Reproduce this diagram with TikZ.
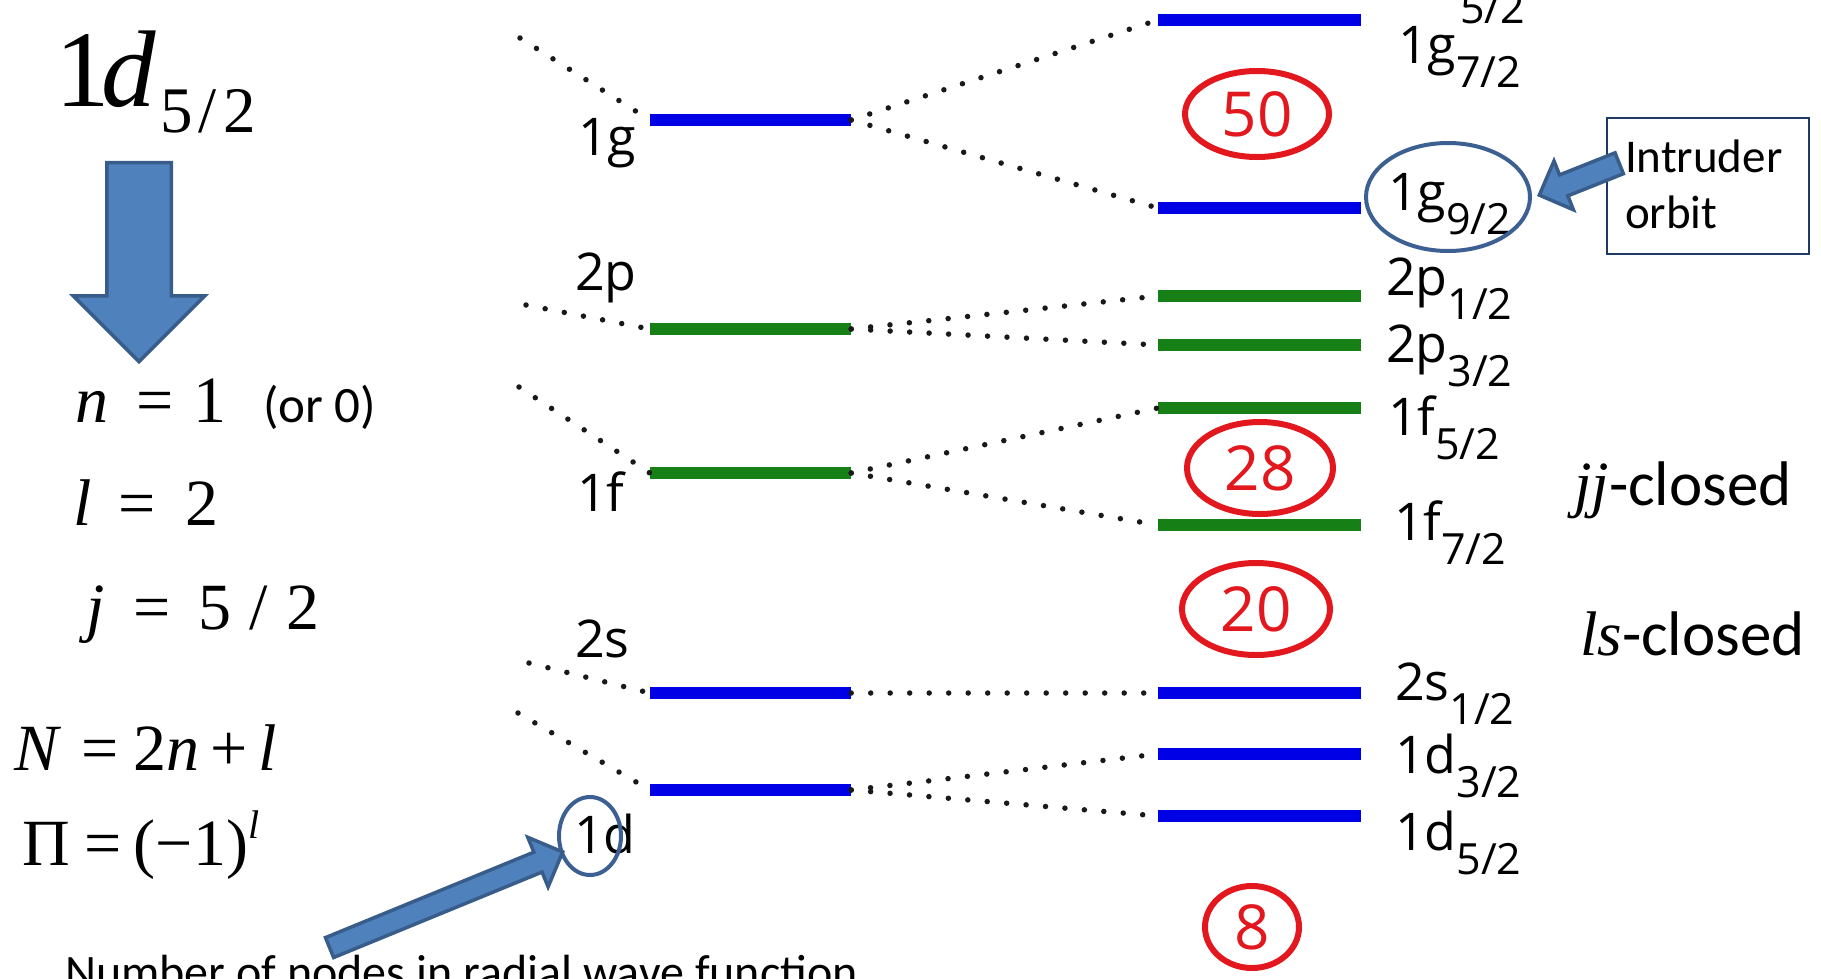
\documentclass[tikz,border=0pt]{standalone}
\usepackage{fontspec}
\setmainfont{Carlito}
\newfontfamily\tnr{Liberation Serif}
\newfontfamily\lvf{Open Sans}
\usetikzlibrary{shapes.geometric,shapes.arrows,calc}

\definecolor{lvblue}{RGB}{0,0,230}
\definecolor{lvgreen}{RGB}{22,128,22}
\definecolor{magic}{RGB}{226,24,30}
\definecolor{arrowfill}{RGB}{79,129,189}
\definecolor{arrowedge}{RGB}{56,93,138}
\definecolor{ringblue}{RGB}{60,96,146}
\definecolor{boxedge}{RGB}{32,56,100}
\definecolor{dotgray}{RGB}{25,25,25}

\newcommand\fsz[1]{\fontsize{#1}{#1}\selectfont}
\newcommand\orb[2]{#1\raisebox{-24pt}{\fsz{43}#2}}

\begin{document}
\begin{tikzpicture}[x=1pt,y=-1pt,
  txt/.style={anchor=base west, inner sep=0pt, outer sep=0pt},
  bar/.style={rectangle, inner sep=0pt, minimum height=12.5pt},
  midbar/.style={bar, minimum width=201pt},
  sidebar/.style={bar, minimum width=203pt},
  dotl/.style={draw=dotgray, line width=5.5pt, dash pattern=on 0pt off 19.5pt, line cap=round},
  lvlabel/.style={txt, font=\lvf\fsz{52}},
  magicring/.style={ellipse, draw=magic, line width=6pt, text=magic, font=\lvf\fsz{62}, inner sep=0pt},
  pointer/.style={ellipse, draw=ringblue, line width=4pt, inner sep=0pt},
  barrow/.style={single arrow, draw=arrowedge, fill=arrowfill, line width=3.5pt, inner sep=0pt,
    text depth=0pt, single arrow tip angle=90, line join=miter},
  math/.style={txt, font=\tnr\fsz{66}},
]
\useasboundingbox (0,0) rectangle (1821,978);

% ---------- left column: quantum numbers ----------
\node[txt, font=\tnr\fsz{109}] (big1d) at (55,106) {1\hspace{-8pt}\textit{d}};
\node[txt, font=\tnr\fsz{65}] (big1dsub) at (160,132) {5\hspace{6pt}/\hspace{7pt}2};

\node[barrow, text height=61pt, minimum height=199pt, single arrow head extend=33.5pt,
      rotate=-90, anchor=tip] (downarr) at (139,364) {};

\node[math] (neq) at (75,422) {\textit{n}\hspace{28pt}=\hspace{20pt}1};
\node[txt, font=\fsz{51}] (nalt) at (263,422) {(or 0)};
\node[math] (leq) at (73,525) {\textit{l}\hspace{27pt}=\hspace{30pt}2};
\node[math] (jeq) at (86,629) {\textit{j}\hspace{29pt}=\hspace{28pt}5\hspace{18pt}/\hspace{19pt}2};
\node[math] (Neq) at (14,770) {\textit{N}\hspace{20pt}=\hspace{15pt}2\textit{n}\hspace{11pt}+\hspace{11pt}\textit{l}};
\node[math] (Pieq) at (22,865) {Π\hspace{15pt}=\hspace{12pt}(−1)\raisebox{27pt}{\fsz{40}\textit{l}}};

\node[txt, font=\fsz{48}] (nodesnote) at (65,988) {Number of nodes in radial wave function};

% ---------- free ends of the incoming dotted lines ----------
\coordinate (l1g) at (520,38);
\coordinate (l2p) at (526,305);
\coordinate (l1f) at (519,387);
\coordinate (l2s) at (529,663);
\coordinate (l1d) at (518,713);

% ---------- oscillator levels (without spin-orbit) ----------
\node[midbar, fill=lvblue]  (c1g) at (750.5,120) {};
\node[midbar, fill=lvgreen] (c2p) at (750.5,329) {};
\node[midbar, fill=lvgreen] (c1f) at (750.5,473) {};
\node[midbar, fill=lvblue]  (c2s) at (750.5,693) {};
\node[midbar, fill=lvblue]  (c1d) at (750.5,790) {};

\node[lvlabel] (n1g) at (578,155) {1g};
\node[lvlabel] (n2p) at (575,290) {2p};
\node[lvlabel] (n1f) at (577,511) {1f};
\node[lvlabel] (n2s) at (575,657) {2s};
\node[lvlabel] (n1d) at (574,853) {1d};

% ---------- spin-orbit split levels ----------
\node[sidebar, fill=lvblue]  (r1g7) at (1259.5,20) {};
\node[sidebar, fill=lvblue]  (r1g9) at (1259.5,208) {};
\node[sidebar, fill=lvgreen] (r2p1) at (1259.5,296) {};
\node[sidebar, fill=lvgreen] (r2p3) at (1259.5,345) {};
\node[sidebar, fill=lvgreen] (r1f5) at (1259.5,408) {};
\node[sidebar, fill=lvgreen] (r1f7) at (1259.5,525) {};
\node[sidebar, fill=lvblue]  (r2s1) at (1259.5,693) {};
\node[sidebar, fill=lvblue]  (r1d3) at (1259.5,754) {};
\node[sidebar, fill=lvblue]  (r1d5) at (1259.5,816) {};

% ---------- dotted correlation lines ----------
\draw[dotl] (l1g) -- (c1g.west);
\draw[dotl] (l2p) -- (c2p.west);
\draw[dotl] (l1f) -- (c1f.west);
\draw[dotl] (l2s) -- (c2s.west);
\draw[dotl] (l1d) -- (c1d.west);
\draw[dotl] (c1g.east) -- (r1g7.west);
\draw[dotl] (c1g.east) -- (r1g9.west);
\draw[dotl] (c2p.east) -- (r2p1.west);
\draw[dotl] (c2p.east) -- (r2p3.west);
\draw[dotl] (c1f.east) -- (r1f5.west);
\draw[dotl] (c1f.east) -- (r1f7.west);
\draw[dotl] (c2s.east) -- (r2s1.west);
\draw[dotl] (c1d.east) -- (r1d3.west);
\draw[dotl] (c1d.east) -- (r1d5.west);

% ---------- orbital labels ----------
\node[txt, font=\lvf\fsz{43}] (otop) at (1460,23) {5/2};
\node[lvlabel] (o1g7) at (1398,63)  {\orb{1g}{7/2}};
\node[lvlabel] (o1g9) at (1388,210) {\orb{1g}{9/2}};
\node[lvlabel] (o2p1) at (1386,295) {\orb{2p}{1/2}};
\node[lvlabel] (o2p3) at (1386,362) {\orb{2p}{3/2}};
\node[lvlabel] (o1f5) at (1388,435) {\orb{1f}{5/2}};
\node[lvlabel] (o1f7) at (1394,540) {\orb{1f}{7/2}};
\node[lvlabel] (o2s1) at (1395,700) {\orb{2s}{1/2}};
\node[lvlabel] (o1d3) at (1395,773) {\orb{1d}{3/2}};
\node[lvlabel] (o1d5) at (1395,850) {\orb{1d}{5/2}};

% ---------- magic numbers ----------
\node[magicring, minimum width=144pt, minimum height=86pt] (m50) at (1257,114) {50};
\node[magicring, minimum width=146pt, minimum height=92pt] (m28) at (1260,468) {28};
\node[magicring, minimum width=148pt, minimum height=92pt] (m20) at (1256,609) {20};
\node[magicring, minimum width=94pt, minimum height=82pt] (m8) at (1252,927) {8};

\node[txt, font=\fsz{63}] (jjc) at (1574,505) {{\tnr\itshape jj}-closed};
\node[txt, font=\fsz{63}] (lsc) at (1580,655) {{\tnr\itshape ls}-closed};

% ---------- annotations ----------
\node[draw=boxedge, line width=2pt, minimum width=202pt, minimum height=136pt,
      anchor=north west, inner sep=0pt] (ibox) at (1606,117) {};
\node[txt, font=\fsz{47}] (itxt1) at (1625,172) {Intruder};
\node[txt, font=\fsz{47}] (itxt2) at (1625,228) {orbit};

\node[pointer, minimum width=164pt, minimum height=108pt] (ring9) at (1448,197) {};
\node[pointer, minimum width=62pt, minimum height=78pt] (ring1d) at (590,836) {};

\node[barrow, text height=19pt, minimum height=86pt, single arrow head extend=15pt,
      rotate=201.7, anchor=tip] (intrarr) at (1537,196) {};
\node[barrow, text height=18pt, minimum height=252pt, single arrow head extend=16pt,
      rotate=22.3, anchor=tip] (nodearr) at (565,851) {};
\end{tikzpicture}
\end{document}
